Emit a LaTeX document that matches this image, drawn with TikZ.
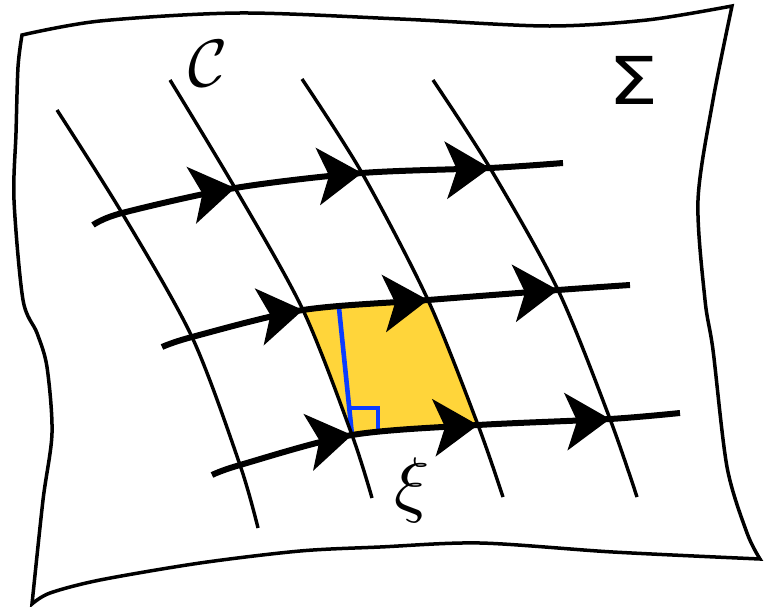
\documentclass[tikz,border=0pt]{standalone}
\usepackage{fontspec}
\newfontfamily\sigmafont{DejaVu Sans}
\usetikzlibrary{arrows.meta,calc}
\definecolor{patch}{HTML}{FFD53A}
\definecolor{perp}{HTML}{0A3CFF}
\tikzset{
  sheet/.style={line width=3.5pt, line join=miter},
  fieldline/.style={line width=3.4pt},
  flowline/.style={line width=6pt},
  flowhead/.style={line width=6pt, -{Stealth[length=44pt,width=57pt,inset=11pt]}},
  perpline/.style={line width=4.6pt, draw=perp},
  txt/.style={inner sep=0pt},
}
\begin{document}
\begin{tikzpicture}[x=1pt,y=-1pt]
\useasboundingbox (0,0) rectangle (773,607);
% sheet outline
\draw[sheet]
  plot[smooth] coordinates {(22,35) (100,21) (240,13) (400,19) (547,26) (647,20) (732,6)}
  -- plot[smooth] coordinates {(732,6) (713,100) (698,200) (705,300) (713,350) (727,467) (747,533) (760,559)}
  -- plot[smooth] coordinates {(760,559) (613,552) (480,543) (380,547) (300,551) (200,563) (100,580) (50,593) (32,604)}
  -- plot[smooth] coordinates {(32,604) (43,500) (52,433) (47,367) (37,333) (23,300) (14,200) (16,133) (18,67) (22,35)}
  -- cycle;
% end points
\coordinate (v1s) at (57,110);  \coordinate (v1e) at (258,528);
\coordinate (v2s) at (170,80);  \coordinate (v2e) at (372,498);
\coordinate (v3s) at (302,79);  \coordinate (v3e) at (503,497);
\coordinate (v4s) at (433,80);  \coordinate (v4e) at (637,497);
\coordinate (h1s) at (93,225);  \coordinate (h1e) at (563,163);
\coordinate (h2s) at (162,347); \coordinate (h2e) at (630,285);
\coordinate (h3s) at (212,475); \coordinate (h3e) at (680,413);
% crossings
\coordinate (c11) at (122,213); \coordinate (c12) at (235,188); \coordinate (c13) at (362,173); \coordinate (c14) at (490,168);
\coordinate (c21) at (192,337); \coordinate (c22) at (303,310); \coordinate (c23) at (428,300); \coordinate (c24) at (558,290);
\coordinate (c31) at (240,465); \coordinate (c32) at (352,435); \coordinate (c33) at (478,425); \coordinate (c34) at (610,419);
% patch
\fill[patch] (c22) -- (c23) -- (c33) -- (c32) -- cycle;
% perpendicular
\coordinate (ptop) at (339,308);
\coordinate (sqa) at (351,408); \coordinate (sqb) at (378,408); \coordinate (sqc) at (378,433);
\draw[perpline] (ptop) -- (c32);
\draw[perpline] (sqa) -- (sqb) -- (sqc);
% field lines
\draw[fieldline] plot[smooth] coordinates {(v1s) (c11) (c21) (c31) (v1e)};
\draw[fieldline] plot[smooth] coordinates {(v2s) (c12) (c22) (c32) (v2e)};
\draw[fieldline] plot[smooth] coordinates {(v3s) (c13) (c23) (c33) (v3e)};
\draw[fieldline] plot[smooth] coordinates {(v4s) (c14) (c24) (c34) (v4e)};
% flow lines
\draw[flowline] plot[smooth] coordinates {(h1s) (c11) (c12) (c13) (c14) (h1e)};
\draw[flowline] plot[smooth] coordinates {(h2s) (c21) (c22) (c23) (c24) (h2e)};
\draw[flowline] plot[smooth] coordinates {(h3s) (c31) (c32) (c33) (c34) (h3e)};
% arrow heads
\draw[flowhead] ($(c12)+0.03*(c11)-0.03*(c13)$) -- (c12);
\draw[flowhead] ($(c13)+0.03*(c12)-0.03*(c14)$) -- (c13);
\draw[flowhead] ($(c14)+0.04*(c13)-0.04*(h1e)$) -- (c14);
\draw[flowhead] ($(c22)+0.03*(c21)-0.03*(c23)$) -- (c22);
\draw[flowhead] ($(c23)+0.03*(c22)-0.03*(c24)$) -- (c23);
\draw[flowhead] ($(c24)+0.04*(c23)-0.04*(h2e)$) -- (c24);
\draw[flowhead] ($(c32)+0.03*(c31)-0.03*(c33)$) -- (c32);
\draw[flowhead] ($(c33)+0.03*(c32)-0.03*(c34)$) -- (c33);
\draw[flowhead] ($(c34)+0.04*(c33)-0.04*(h3e)$) -- (c34);
% labels
\node[txt] (lc) at (208,64) {\scalebox{6.7}{$\mathcal{C}$}};
\node[txt] (ls) at (634,80) {\sigmafont\fontsize{66}{66}\selectfont\scalebox{1.2}[1]{Σ}};
\node[txt] (lx) at (412,490) {\scalebox{7.3}{$\xi$}};
\end{tikzpicture}
\end{document}
